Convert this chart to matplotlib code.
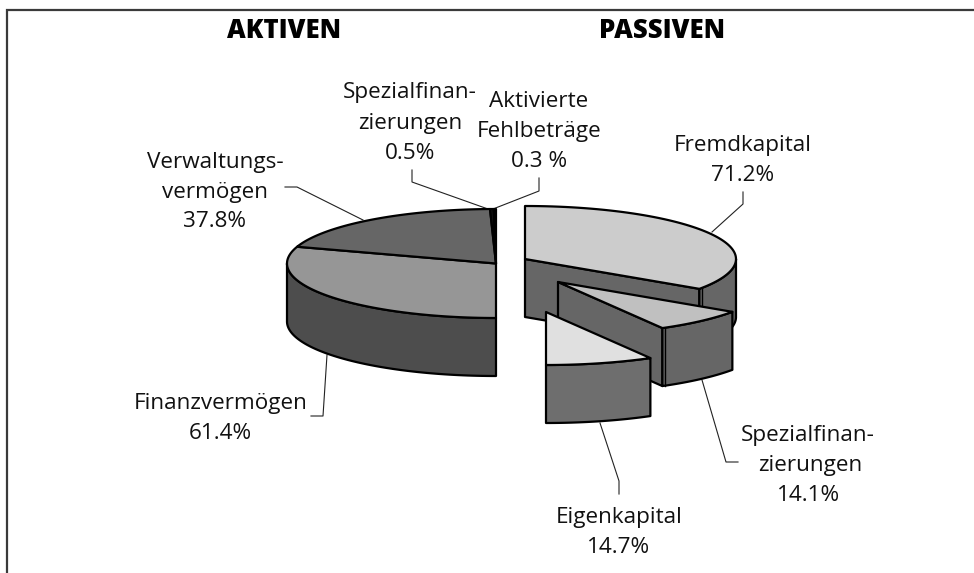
"""
Bilanz: Aktiven / Passiven als zwei halbe 3D-Kreise
"""

import numpy as np
import matplotlib.pyplot as plt
from matplotlib.patches import Polygon

plt.rcParams["font.family"] = ["Open Sans", "DejaVu Sans"]

# ── data ─────────────────────────────────────────────────────────────────────
AKTIV_NAMES = ["Finanzvermögen", "Verwaltungsvermögen", "Spezialfinanzierungen", "Aktivierte Fehlbeträge"]
AKTIV_VALUES = [61.4, 37.8, 0.5, 0.3]
PASSIV_NAMES = ["Eigenkapital", "Spezialfinanzierungen", "Fremdkapital"]
PASSIV_VALUES = [14.7, 14.1, 71.2]

# ── colors and geometry (pixels of the 974x573 picture) ──────────────────────
DEPTH = 58
RY_L, RY_R = 54.5, 53
RX_L, RX_R = 209, 211
C_L = (496, 263.5)
C_R = (525, 259)
EXPLODE = {"Spezialfinanzierungen": (33, 23), "Eigenkapital": (21, 53), "Fremdkapital": (0, 0)}

TOP_L = {"Finanzvermögen": "#969696", "Verwaltungsvermögen": "#666666",
         "Spezialfinanzierungen": "#111111", "Aktivierte Fehlbeträge": "#e0e0e0"}
TOP_R = {"Fremdkapital": "#cccccc", "Spezialfinanzierungen": "#c0c0c0", "Eigenkapital": "#e0e0e0"}
WALL_R = {"Fremdkapital": "#666666", "Spezialfinanzierungen": "#666666", "Eigenkapital": "#6e6e6e"}
EDGE = "black"
LW = 1.6


def warp(u):
    # the picture's projection squeezes the slices a little
    return u + 4 * np.sin(np.radians(2 * u))


def arc(center, rx, ry, sign, u0, u1):
    # u in degrees, counted from the front of the pie
    u = warp(np.linspace(u0, u1, 80))
    x = center[0] + sign * rx * np.sin(np.radians(u))
    y = center[1] + ry * np.cos(np.radians(u))
    return np.column_stack([x, y])


def add(ax, pts, color, z=2):
    ax.add_patch(Polygon(pts, closed=True, facecolor=color, edgecolor=EDGE,
                         linewidth=LW, joinstyle="round", zorder=z))


def wall(ax, a, color, z=2):
    add(ax, np.vstack([a, (a + [0, DEPTH])[::-1]]), color, z)


fig = plt.figure(figsize=(9.74, 5.73), dpi=100)
ax = fig.add_axes([0, 0, 1, 1])
ax.set_xlim(0, 974)
ax.set_ylim(573, 0)
ax.axis("off")

# ── frame ────────────────────────────────────────────────────────────────────
ax.plot([7, 7, 974], [573, 10, 10], color="#3a3a3a", linewidth=1.6, solid_joinstyle="miter")

# ── left pie ─────────────────────────────────────────────────────────────────
edges_l = np.concatenate([[0], np.cumsum(AKTIV_VALUES)]) * 1.8
wall(ax, arc(C_L, RX_L, RY_L, -1, 0, 90), "#4d4d4d")
for name, u0, u1 in zip(AKTIV_NAMES, edges_l[:-1], edges_l[1:]):
    add(ax, np.vstack([[C_L], arc(C_L, RX_L, RY_L, -1, u0, u1)]), TOP_L[name], 3)

# ── right pie, the two small slices pulled out ───────────────────────────────
edges_r = np.concatenate([[0], np.cumsum(PASSIV_VALUES)]) * 1.8
z = 6
for name, u0, u1 in list(zip(PASSIV_NAMES, edges_r[:-1], edges_r[1:]))[::-1]:
    dx, dy = EXPLODE[name]
    c = (C_R[0] + dx, C_R[1] + dy)
    a = arc(c, RX_R, RY_R, 1, u0, min(u1, 90))
    # cut face towards the front, then outer wall
    if name != "Eigenkapital":
        wall(ax, np.array([c, a[0]]), WALL_R[name], z)
    wall(ax, a, WALL_R[name], z)
    if name != "Eigenkapital":
        ax.plot([a[0, 0] + 3] * 2, [a[0, 1] - 1, a[0, 1] + DEPTH], color=EDGE, linewidth=1.0, zorder=z)
    add(ax, np.vstack([[c], arc(c, RX_R, RY_R, 1, u0, u1)]), TOP_R[name], z + 1)
    z += 2

# ── leader lines ─────────────────────────────────────────────────────────────
LEADERS = [
    ([285, 297, 363], [187, 187, 220]),
    ([412, 412, 488], [170, 182, 209]),
    ([539, 539, 493], [178, 191, 209]),
    ([327, 323, 311], [355, 416, 416]),
    ([743, 743, 712], [192, 204, 232]),
    ([702, 726, 738], [380, 462, 462]),
    ([600, 619, 619], [423, 481, 494]),
]
for xs, ys in LEADERS:
    ax.plot(xs, ys, color="#222222", linewidth=0.8, zorder=1)

# ── labels ───────────────────────────────────────────────────────────────────
FS = 16.2
LABELS = [
    ("Verwaltungs-", 215, 168), ("vermögen", 215, 198), ("37.8%", 215, 227),
    ("Spezialfinan-", 410, 98), ("zierungen", 410, 129), ("0.5%", 410, 159),
    ("Aktivierte", 539, 107), ("Fehlbeträge", 539, 137), ("0.3 %", 539, 167),
    ("Fremdkapital", 743, 151), ("71.2%", 743, 181),
    ("Finanzvermögen", 221, 409), ("61.4%", 220, 439),
    ("Spezialfinan-", 808, 441), ("zierungen", 810, 471), ("14.1%", 809, 501),
    ("Eigenkapital", 619, 523), ("14.7%", 619, 553),
]
for txt, x, y in LABELS:
    ax.text(x, y, txt, fontsize=FS, ha="center", va="baseline", color="#111111")

ax.text(284, 38, "AKTIVEN", fontsize=18.5, fontweight="heavy", ha="center", va="baseline", color="black")
ax.text(662, 38, "PASSIVEN", fontsize=18.5, fontweight="heavy", ha="center", va="baseline", color="black")

fig.savefig("out.png", dpi=100)
